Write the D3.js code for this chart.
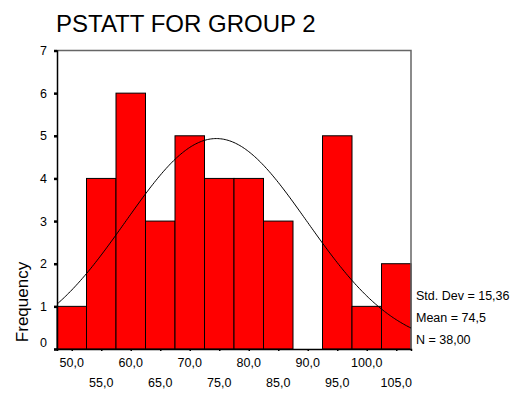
<!DOCTYPE html>
<html>
<head>
<meta charset="utf-8">
<script src="https://cdn.jsdelivr.net/npm/d3@7"></script>
<style>
  html, body { margin: 0; padding: 0; background: #fff; }
  svg { display: block; font-family: Arial, "Liberation Sans", sans-serif; }
</style>
</head>
<body>
<svg id="chart" width="512" height="394"></svg>
<script>
// Histogram of PSTATT scores, bins of width 5
const binCenters = [50, 55, 60, 65, 70, 75, 80, 85, 90, 95, 100, 105];
const counts     = [1, 4, 6, 3, 5, 4, 4, 3, 0, 5, 1, 2];
const yTicks     = [0, 1, 2, 3, 4, 5, 6, 7];
const statLines  = ["Std. Dev = 15,36", "Mean = 74,5", "N = 38,00"];
const stats      = { sd: 15.36, mean: 74.5, n: 38 };
const binWidth   = 5;

const svg = d3.select("#chart");
const plot = { left: 57, right: 411, top: 50.5, bottom: 349 };

const x = d3.scaleLinear()
  .domain([binCenters[0] - binWidth / 2, binCenters[binCenters.length - 1] + binWidth / 2])
  .range([plot.left, plot.right]);
const y = d3.scaleLinear().domain([0, 7]).range([plot.bottom, plot.top]);

// Title
svg.append("text")
  .attr("x", 56).attr("y", 32)
  .attr("font-size", 24)
  .attr("fill", "#000")
  .text("PSTATT FOR GROUP 2");

// Bars
svg.append("g").selectAll("rect")
  .data(binCenters.map((c, i) => ({ c, v: counts[i] })))
  .join("rect")
  .attr("x", d => x(d.c - binWidth / 2))
  .attr("width", d => x(d.c + binWidth / 2) - x(d.c - binWidth / 2))
  .attr("y", d => y(d.v))
  .attr("height", d => y(0) - y(d.v))
  .attr("fill", "#ff0000")
  .attr("stroke", "#000")
  .attr("stroke-width", 1);

// Frame top and right
svg.append("path")
  .attr("d", `M${plot.left},${plot.top}H${plot.right}V${plot.bottom}`)
  .attr("fill", "none")
  .attr("stroke", "#666")
  .attr("stroke-width", 1.5);

// Normal curve scaled to counts
const density = v => stats.n * binWidth / (stats.sd * Math.sqrt(2 * Math.PI)) *
  Math.exp(-0.5 * Math.pow((v - stats.mean) / stats.sd, 2));
const xs = d3.range(x.domain()[0], x.domain()[1] + 0.001, 0.25);
svg.append("path")
  .datum(xs)
  .attr("d", d3.line().x(v => x(v)).y(v => y(density(v))))
  .attr("fill", "none")
  .attr("stroke", "#000")
  .attr("stroke-width", 1);

// Y axis
const yAxis = svg.append("g")
  .attr("transform", `translate(${plot.left},0)`)
  .call(d3.axisLeft(y).tickValues(yTicks).tickFormat(d3.format("d")).tickSize(3).tickPadding(7));
yAxis.select(".domain").attr("stroke", "#000").attr("stroke-width", 1.5);
yAxis.selectAll(".tick line").attr("stroke", "#000").attr("stroke-width", 2.5);
yAxis.selectAll("text")
  .attr("font-size", 12.5)
  .attr("font-family", "Arial, 'Liberation Sans', sans-serif")
  .attr("fill", "#000")
  .attr("dy", d => d === 0 ? "-0.22em" : "0.32em");

// X axis with staggered labels
const xAxis = svg.append("g")
  .attr("transform", `translate(0,${plot.bottom})`)
  .call(d3.axisBottom(x).tickValues(binCenters).tickSize(2).tickFormat(""));
xAxis.select(".domain").attr("stroke", "#000").attr("stroke-width", 1.5);
xAxis.selectAll(".tick line").attr("stroke", "#000").attr("stroke-width", 1.5);

svg.append("g").selectAll("text")
  .data(binCenters)
  .join("text")
  .attr("x", d => x(d))
  .attr("y", (d, i) => i % 2 === 0 ? 367 : 387)
  .attr("text-anchor", "middle")
  .attr("font-size", 12.5)
  .attr("fill", "#000")
  .text(d => d3.format(".1f")(d).replace(".", ","));

// Y axis title
svg.append("text")
  .attr("transform", "translate(28,302) rotate(-90)")
  .attr("text-anchor", "middle")
  .attr("font-size", 17)
  .attr("fill", "#000")
  .text("Frequency");

// Summary statistics
svg.append("g").selectAll("text")
  .data(statLines)
  .join("text")
  .attr("x", 416)
  .attr("y", (d, i) => 299.5 + i * 22)
  .attr("font-size", 12.5)
  .attr("fill", "#000")
  .text(d => d);
</script>
</body>
</html>
